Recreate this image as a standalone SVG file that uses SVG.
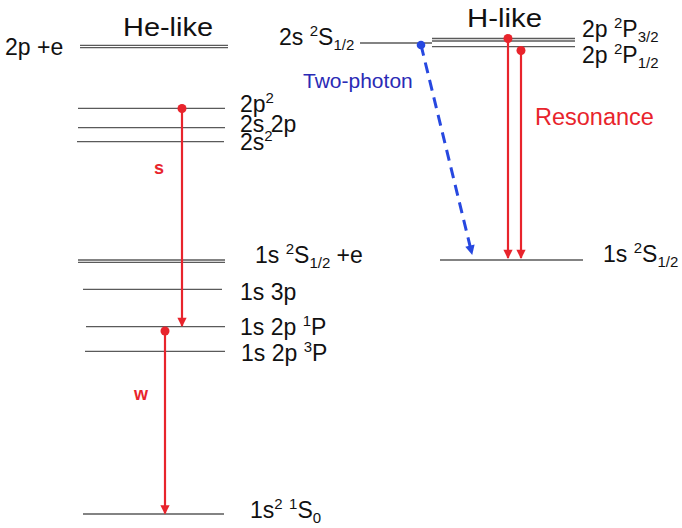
<svg xmlns="http://www.w3.org/2000/svg" width="682" height="528" viewBox="0 0 682 528">
<style>
text{font-family:"Liberation Sans",Arial,sans-serif;fill:#111}
.lbl{font-size:23px}
.title{font-size:26px}
.sm{font-size:15px}
.lvl{stroke:#5a5a5a;stroke-width:1.3;fill:none}
.red{stroke:#e8242c;stroke-width:2.2;fill:none}
.rt{fill:#e8242c;font-weight:bold;font-size:18px}
</style>
<defs>
<marker id="ar" viewBox="0 0 10 10" refX="9" refY="5" markerWidth="4.5" markerHeight="4.2" orient="auto" markerUnits="strokeWidth">
<path d="M0,0 L10,5 L0,10 z" fill="#e8242c"/>
</marker>
<marker id="ab" viewBox="0 0 10 10" refX="9" refY="5" markerWidth="3.8" markerHeight="3.2" orient="auto" markerUnits="strokeWidth">
<path d="M0,0 L10,5 L0,10 z" fill="#2748e0"/>
</marker>
</defs>
<rect width="682" height="528" fill="#fff"/>
<text class="title" x="123" y="36" textLength="90" lengthAdjust="spacingAndGlyphs">He-like</text>
<text class="title" x="467" y="27" textLength="75" lengthAdjust="spacingAndGlyphs">H-like</text>
<g id="he-2pe">
<line class="lvl" x1="80" y1="45.3" x2="228" y2="45.3"/><line class="lvl" x1="80" y1="47.6" x2="228" y2="47.6"/>
<text class="lbl" x="5" y="55">2p +e</text>
</g>
<g id="he-2p2">
<line class="lvl" x1="78" y1="108.3" x2="225" y2="108.3"/>
<text class="lbl" x="240" y="112">2p<tspan class="sm" dy="-9">2</tspan></text>
</g>
<g id="he-2s2p">
<line class="lvl" x1="78" y1="127.7" x2="225" y2="127.7"/>
<text class="lbl" x="240" y="131.5">2s 2p</text>
</g>
<g id="he-2s2">
<line class="lvl" x1="77" y1="141.7" x2="224" y2="141.7"/>
<text class="lbl" x="240" y="150">2s<tspan class="sm" dy="-9">2</tspan></text>
</g>
<g id="he-1s2s-e">
<line class="lvl" x1="78" y1="260" x2="225" y2="260"/><line class="lvl" x1="78" y1="262.3" x2="225" y2="262.3"/>
<text class="lbl" x="255" y="263">1s <tspan class="sm" dy="-9">2</tspan><tspan dy="9">S</tspan><tspan class="sm" dy="5">1/2</tspan><tspan dy="-5"> +e</tspan></text>
</g>
<g id="he-1s3p">
<line class="lvl" x1="83" y1="289.3" x2="222" y2="289.3"/>
<text class="lbl" x="240" y="300">1s 3p</text>
</g>
<g id="he-1s2p1P">
<line class="lvl" x1="86" y1="326.7" x2="225" y2="326.7"/>
<text class="lbl" x="240" y="335">1s 2p <tspan class="sm" dy="-9">1</tspan><tspan dy="9">P</tspan></text>
</g>
<g id="he-1s2p3P">
<line class="lvl" x1="85" y1="351.3" x2="225" y2="351.3"/>
<text class="lbl" x="241" y="360.5">1s 2p <tspan class="sm" dy="-9">3</tspan><tspan dy="9">P</tspan></text>
</g>
<g id="he-1s2">
<line class="lvl" x1="83" y1="514" x2="224" y2="514"/>
<text class="lbl" x="250" y="518">1s<tspan class="sm" dy="-9">2</tspan><tspan dy="9">  </tspan><tspan class="sm" dy="-9">1</tspan><tspan dy="9">S</tspan><tspan class="sm" dy="5">0</tspan></text>
</g>
<g id="h-2s">
<line class="lvl" x1="360" y1="43" x2="432" y2="43"/>
<text class="lbl" x="279" y="45">2s <tspan class="sm" dy="-9">2</tspan><tspan dy="9">S</tspan><tspan class="sm" dy="5">1/2</tspan></text>
</g>
<g id="h-2p32">
<line class="lvl" x1="432" y1="38.5" x2="575" y2="38.5"/><line class="lvl" x1="432" y1="41" x2="575" y2="41"/>
<text class="lbl" x="582" y="36.5">2p <tspan class="sm" dy="-9">2</tspan><tspan dy="9">P</tspan><tspan class="sm" dy="5">3/2</tspan></text>
</g>
<g id="h-2p12">
<line class="lvl" x1="432" y1="46.7" x2="575" y2="46.7"/>
<text class="lbl" x="582" y="63">2p <tspan class="sm" dy="-9">2</tspan><tspan dy="9">P</tspan><tspan class="sm" dy="5">1/2</tspan></text>
</g>
<g id="h-1s">
<line class="lvl" x1="440" y1="260" x2="583" y2="260"/>
<text class="lbl" x="603" y="262">1s <tspan class="sm" dy="-9">2</tspan><tspan dy="9">S</tspan><tspan class="sm" dy="5">1/2</tspan></text>
</g>
<g id="connectors">
<line class="red" x1="182" y1="108.5" x2="182" y2="326" marker-end="url(#ar)"/>
<circle cx="182" cy="108.5" r="4.5" fill="#e8242c"/>
<text class="rt" x="154" y="174">s</text>
<line class="red" x1="165" y1="331" x2="165" y2="513.5" marker-end="url(#ar)"/>
<circle cx="165" cy="331" r="4.5" fill="#e8242c"/>
<text class="rt" x="134" y="400">w</text>
<line class="red" x1="508" y1="38.5" x2="508" y2="258" marker-end="url(#ar)"/>
<circle cx="508" cy="38.5" r="4.5" fill="#e8242c"/>
<line class="red" x1="521" y1="50.5" x2="521" y2="258" marker-end="url(#ar)"/>
<circle cx="521" cy="50.5" r="4.5" fill="#e8242c"/>
<text x="535" y="125" style="fill:#e8242c;font-size:23.5px">Resonance</text>
<line x1="421" y1="45" x2="472" y2="254" stroke="#2748e0" stroke-width="3" stroke-dasharray="11 7" marker-end="url(#ab)"/>
<circle cx="421" cy="45" r="4.3" fill="#2748e0"/>
<text x="303" y="88" style="fill:#2a2ab5;font-size:21px">Two-photon</text>
</g>
</svg>
